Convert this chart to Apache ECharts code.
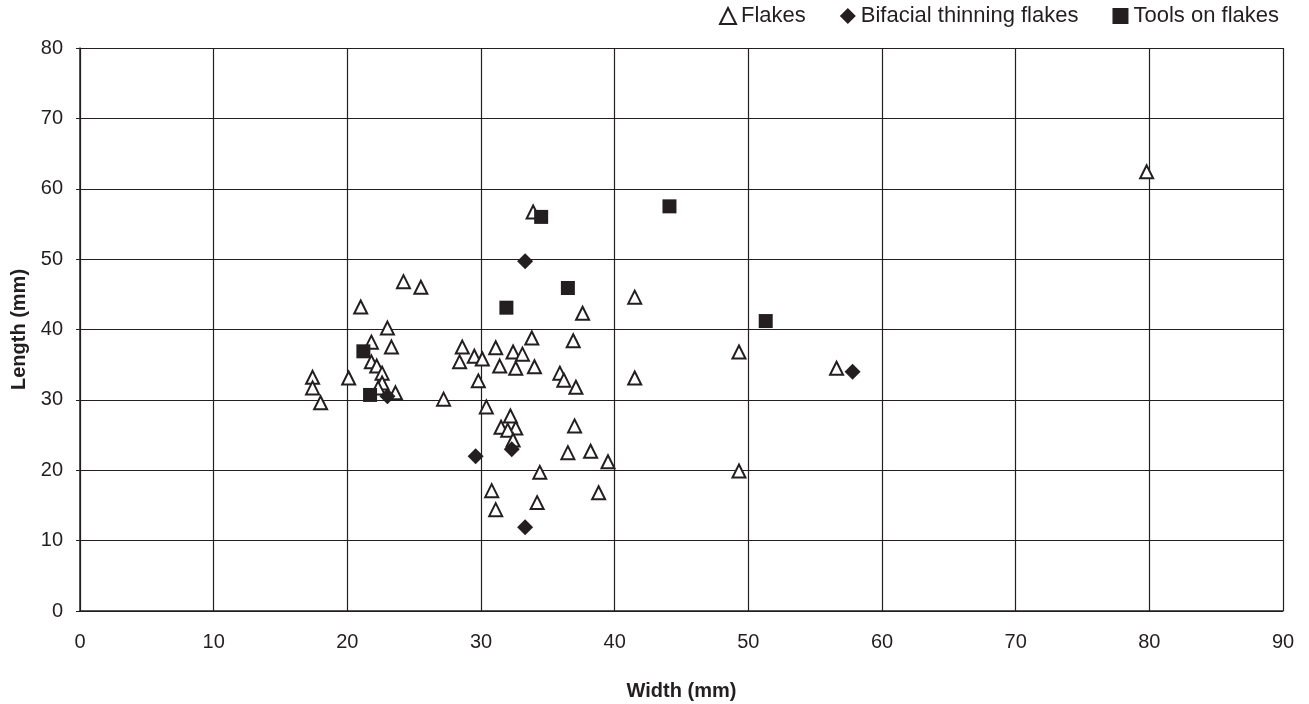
<!DOCTYPE html>
<html>
<head>
<meta charset="utf-8">
<script src="https://cdn.jsdelivr.net/npm/echarts@6/dist/echarts.min.js"></script>
<style>
  html, body { margin: 0; padding: 0; background: #fff; }
  #chart { width: 1309px; height: 704px; }
</style>
</head>
<body>
<div id="chart"></div>
<script>
const flakes = [
  [79.8, 62.4], [21.0, 43.2], [24.2, 46.8], [25.5, 46.0], [17.4, 33.2], [17.4, 31.7],
  [18.0, 29.6], [20.1, 33.1], [21.8, 38.2], [21.8, 35.4], [22.2, 34.8], [22.6, 33.8],
  [22.6, 32.4], [22.3, 31.7], [23.0, 40.2], [23.3, 37.5], [23.6, 31.0], [27.2, 30.1],
  [28.6, 37.5], [28.4, 35.4], [29.5, 36.2], [30.1, 35.8], [29.8, 32.7], [30.4, 29.0],
  [31.1, 37.4], [31.4, 34.8], [32.4, 36.8], [32.6, 34.5], [33.1, 36.5], [33.8, 38.8],
  [34.0, 34.7], [35.9, 33.8], [36.2, 32.8], [36.9, 38.4], [37.1, 31.8], [37.6, 42.3],
  [41.5, 44.6], [41.5, 33.1], [49.3, 36.8], [49.3, 19.9], [56.6, 34.5], [33.9, 56.7],
  [32.2, 27.7], [31.5, 26.1], [32.6, 26.0], [32.0, 25.7], [32.4, 24.3], [37.0, 26.3],
  [36.5, 22.5], [38.2, 22.7], [39.5, 21.2], [34.4, 19.7], [30.8, 17.1], [38.8, 16.8],
  [34.2, 15.4], [31.1, 14.4],
];
const bifacial = [
  [33.3, 49.7], [23.0, 30.5], [29.6, 22.0], [32.3, 23.0], [33.3, 11.9], [57.8, 34.0],
];
const tools = [
  [34.5, 56.0], [44.1, 57.5], [36.5, 45.9], [31.9, 43.1], [51.3, 41.2], [21.2, 36.9], [21.7, 30.7],
];

const FONT = '"Liberation Sans", Arial, sans-serif';
const INK = '#231f20';

const chart = echarts.init(document.getElementById('chart'), null, { renderer: 'canvas' });

function axisCommon() {
  return {
    type: 'value',
    axisLine: { show: true, lineStyle: { color: INK, width: 1.5 } },
    axisLabel: { color: INK, fontSize: 20, fontFamily: FONT },
    splitLine: { show: true, lineStyle: { color: INK, width: 1.2 } },
    nameLocation: 'middle',
    nameTextStyle: { color: INK, fontSize: 20, fontWeight: 'bold', fontFamily: FONT },
  };
}

chart.setOption({
  backgroundColor: '#fff',
  animation: false,
  textStyle: { fontFamily: FONT },
  legend: {
    top: 0, right: 25,
    itemWidth: 16, itemHeight: 16, itemGap: 34,
    textStyle: { color: INK, fontSize: 22, fontFamily: FONT },
    data: ['Flakes', 'Bifacial thinning flakes', 'Tools on flakes'],
  },
  grid: {
    left: 80, right: 26, top: 48, bottom: 93,
    containLabel: false, outerBoundsMode: 'none',
  },
  xAxis: {
    ...axisCommon(),
    min: 0, max: 90, interval: 10,
    axisTick: { show: false },
    axisLabel: { color: INK, fontSize: 20, fontFamily: FONT, margin: 21 },
    name: 'Width (mm)', nameGap: 70,
  },
  yAxis: {
    ...axisCommon(),
    min: 0, max: 80, interval: 10,
    axisTick: { show: true, length: 4, lineStyle: { color: INK } },
    axisLabel: { color: INK, fontSize: 20, fontFamily: FONT, margin: 17 },
    name: 'Length (mm)', nameGap: 51,
  },
  series: [
    {
      name: 'Flakes', type: 'scatter', symbol: 'triangle', symbolSize: 13,
      itemStyle: { color: '#fff', borderColor: INK, borderWidth: 2, opacity: 1 },
      data: flakes, z: 2,
    },
    {
      name: 'Bifacial thinning flakes', type: 'scatter', symbol: 'diamond', symbolSize: 16,
      itemStyle: { color: INK, opacity: 1 },
      data: bifacial, z: 3,
    },
    {
      name: 'Tools on flakes', type: 'scatter', symbol: 'rect', symbolSize: 14,
      itemStyle: { color: INK, opacity: 1 },
      data: tools, z: 4,
    },
  ],
});
</script>
</body>
</html>
